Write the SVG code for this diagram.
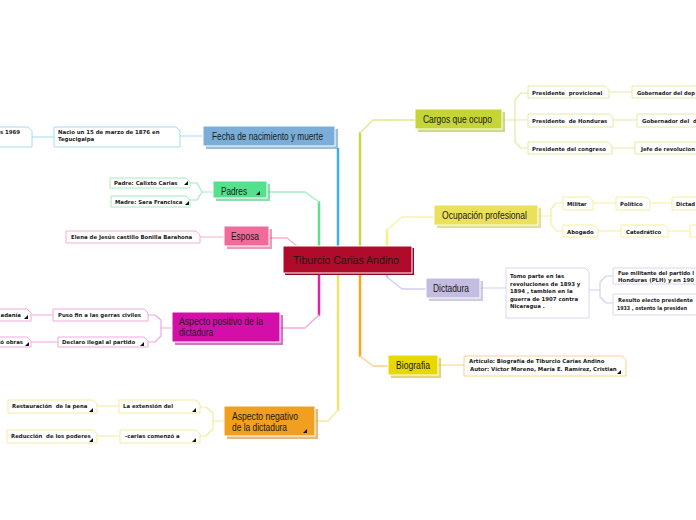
<svg xmlns="http://www.w3.org/2000/svg" width="696" height="520" viewBox="0 0 696 520">
<style>
.mt{font-family:"Liberation Sans",Arial,sans-serif;font-size:11px;fill:#1a1a1a}
.ct{font-family:"DejaVu Sans",Verdana,sans-serif;font-size:5.4px;font-weight:bold;fill:#1a1a1a}
.main{stroke:#fff;stroke-width:1}
.sh{opacity:.55}
.cb{fill:#fff;stroke-width:1}
.ln{fill:none;stroke-linejoin:round;stroke-linecap:round}
.tri{fill:#111}
</style>
<rect width="696" height="520" fill="#fff"/>
<g id="connectors">
<path class="ln" d="M338 246 V149" stroke="#3cb0ea" stroke-width="2.5"/>
<path class="ln" d="M319 246 V202" stroke="#5fe08f" stroke-width="2.5"/>
<path class="ln" d="M319 202 L305 192 H268" stroke="#a6ecc2" stroke-width="1.3"/>
<path class="ln" d="M297 246 L287 238 H270" stroke="#f7b0cc" stroke-width="1.3"/>
<path class="ln" d="M319 273 V315" stroke="#e020b0" stroke-width="2.5"/>
<path class="ln" d="M319 315 L305 328 H281" stroke="#f2a8e2" stroke-width="1.3"/>
<path class="ln" d="M338 273 V410" stroke="#efe070" stroke-width="2.5"/>
<path class="ln" d="M338 410 L328 421 H316" stroke="#f5e9a0" stroke-width="1.3"/>
<path class="ln" d="M360 246 V133" stroke="#c6d648" stroke-width="2.5"/>
<path class="ln" d="M360 133 L373 120 H415" stroke="#dde88c" stroke-width="1.3"/>
<path class="ln" d="M387 246 V230" stroke="#f8f080" stroke-width="2.5"/>
<path class="ln" d="M387 230 L402 217 H434" stroke="#faf3a8" stroke-width="1.3"/>
<path class="ln" d="M387 273 V277" stroke="#c8c4e8" stroke-width="2.5"/>
<path class="ln" d="M387 277 L402 289 H426" stroke="#d2cfee" stroke-width="1.3"/>
<path class="ln" d="M360 273 V356" stroke="#f8a820" stroke-width="2.5"/>
<path class="ln" d="M360 356 L373 366 H388" stroke="#fdd08a" stroke-width="1.3"/>
<g stroke="#e2eca0" stroke-width="1.2" class="ln">
<path d="M502 120 H528"/>
<path d="M515 120 V100 L521 93 H528"/>
<path d="M515 120 V142 L521 148 H528"/>
<path d="M609 92 H632"/>
<path d="M613 120 H637"/>
<path d="M612 148 H635"/>
</g>
<g stroke="#f7ef9a" stroke-width="1.2" class="ln">
<path d="M538 216 H551 V209 L556 203 H563"/>
<path d="M551 216 V224 L556 231 H563"/>
<path d="M593 203 H616"/>
<path d="M650 203 H672"/>
<path d="M598 231 H621"/>
<path d="M668 231 H690"/>
</g>
<g stroke="#d2cfee" stroke-width="1.2" class="ln">
<path d="M480 288 H506"/>
<path d="M589 290 H600 V282 L606 276 H613"/>
<path d="M600 290 V297 L606 303 H613"/>
</g>
<path class="ln" d="M438 365 H464" stroke="#fdd08a" stroke-width="1.2"/>
<g stroke="#a8dcf2" stroke-width="1.2" class="ln">
<path d="M203 136 H180"/>
<path d="M54 137 H32"/>
</g>
<g stroke="#a6ecc2" stroke-width="1.2" class="ln">
<path d="M213 192 H202 L197 183 H190"/>
<path d="M202 192 L197 200 H190"/>
</g>
<path class="ln" d="M224 237 H200" stroke="#f7b0cc" stroke-width="1.2"/>
<g stroke="#f2a8e2" stroke-width="1.2" class="ln">
<path d="M172 328 H161 V320 L155 315 H148"/>
<path d="M161 328 V336 L155 342 H148"/>
<path d="M53 315 H31"/>
<path d="M58 342 H31"/>
</g>
<g stroke="#f5e9a0" stroke-width="1.2" class="ln">
<path d="M224 421 H213 V413 L206 407 H200"/>
<path d="M213 421 V429 L206 436 H200"/>
<path d="M119 406 H97"/>
<path d="M120 436 H97"/>
</g>
</g>

<g id="central">
<rect x="285" y="248" width="129" height="27" fill="#8a0a22"/>
<rect class="main" x="283" y="246" width="129" height="27" fill="#b00b2a"/>
<text class="mt" x="293" y="264" textLength="106" lengthAdjust="spacingAndGlyphs" font-size="12">Tiburcio Carias Andino</text>
</g>

<g id="fecha">
<rect class="sh" x="206" y="129" width="132" height="20" fill="#4f88bd"/>
<rect class="main" x="203" y="126" width="132" height="20" fill="#7aaed8"/>
<text class="mt" x="212" y="140" textLength="111" lengthAdjust="spacingAndGlyphs">Fecha de nacimiento y muerte</text>
</g>
<g id="fecha-c1">
<path class="cb" stroke="#a8dcf2" d="M54 127 H176 L180 131 V147 H54 Z"/>
<text class="ct" x="58" y="134">Nacio un 15 de marzo de 1876 en</text>
<text class="ct" x="58" y="141">Tegucigalpa</text>
</g>
<g id="fecha-c2">
<path class="cb" stroke="#a8dcf2" d="M-5 127 H28 L32 131 V147 H-5 Z"/>
<text class="ct" x="20" y="134" text-anchor="end">s 1969</text>
</g>

<g id="padres">
<rect class="sh" x="216" y="184" width="54" height="17" fill="#2fbf6a"/>
<rect class="main" x="213" y="181" width="54" height="17" fill="#55e08e"/>
<text class="mt" x="221" y="195" textLength="26" lengthAdjust="spacingAndGlyphs">Padres</text>
<path class="tri" d="M260 191 V195 H256 Z"/>
</g>
<g id="padre">
<path class="cb" stroke="#a6ecc2" d="M110 178 H186 L190 182 V188 H110 Z"/>
<text class="ct" x="114" y="185">Padre: Calixto Carias</text>
<path class="tri" d="M188 181 V185 H184 Z"/>
</g>
<g id="madre">
<path class="cb" stroke="#a6ecc2" d="M111 196 H186 L190 200 V207 H111 Z"/>
<text class="ct" x="115" y="204">Madre: Sara Francisca</text>
<path class="tri" d="M189 201 V205 H185 Z"/>
</g>

<g id="esposa">
<rect class="sh" x="227" y="229" width="45" height="20" fill="#d84a80"/>
<rect class="main" x="224" y="226" width="45" height="20" fill="#f06a9a"/>
<text class="mt" x="231" y="240" textLength="28" lengthAdjust="spacingAndGlyphs">Esposa</text>
</g>
<g id="esposa-c">
<path class="cb" stroke="#f7b0cc" d="M66 231 H196 L200 235 V243 H66 Z"/>
<text class="ct" x="71" y="239">Elena de Jesús castillo Bonilla Barahona</text>
</g>

<g id="positivo">
<rect class="sh" x="175" y="315" width="108" height="30" fill="#b0088a"/>
<rect class="main" x="172" y="312" width="108" height="30" fill="#d40fa9"/>
<text class="mt" x="179" y="325" textLength="84" lengthAdjust="spacingAndGlyphs">Aspecto positivo de la</text>
<text class="mt" x="179" y="336" textLength="34" lengthAdjust="spacingAndGlyphs">dictadura</text>
</g>
<g id="puso">
<path class="cb" stroke="#f2a8e2" d="M53 309 H144 L148 313 V321 H53 Z"/>
<text class="ct" x="58" y="317">Puso fin a las gerras civiles</text>
</g>
<g id="declaro">
<path class="cb" stroke="#f2a8e2" d="M58 337 H144 L148 341 V347 H58 Z"/>
<text class="ct" x="62" y="344">Declaro ilegal al partido</text>
<path class="tri" d="M144 342 V346 H140 Z"/>
</g>
<g id="ciudadania">
<path class="cb" stroke="#f2a8e2" d="M-5 309 H27 L31 313 V321 H-5 Z"/>
<text class="ct" x="21" y="317" text-anchor="end">adanía</text>
<path class="tri" d="M28 315 V319 H24 Z"/>
</g>
<g id="obras">
<path class="cb" stroke="#f2a8e2" d="M-5 337 H27 L31 341 V347 H-5 Z"/>
<text class="ct" x="23" y="344" text-anchor="end">ió obras</text>
<path class="tri" d="M29 342 V346 H25 Z"/>
</g>

<g id="negativo">
<rect class="sh" x="227" y="409" width="91" height="30" fill="#d08010"/>
<rect class="main" x="224" y="406" width="91" height="30" fill="#f0a01e"/>
<text class="mt" x="232" y="420" textLength="66" lengthAdjust="spacingAndGlyphs">Aspecto negativo</text>
<text class="mt" x="232" y="431" textLength="55" lengthAdjust="spacingAndGlyphs">de la dictadura</text>
<path class="tri" d="M307 429 V433 H303 Z"/>
</g>
<g id="extension">
<path class="cb" stroke="#f5e9a0" d="M119 400 H196 L200 404 V413 H119 Z"/>
<text class="ct" x="123" y="408">La extensión del</text>
<path class="tri" d="M196 408 V412 H192 Z"/>
</g>
<g id="carias">
<path class="cb" stroke="#f5e9a0" d="M120 430 H196 L200 434 V443 H120 Z"/>
<text class="ct" x="125" y="438">-carias comenzó a</text>
<path class="tri" d="M196 438 V442 H192 Z"/>
</g>
<g id="restauracion">
<path class="cb" stroke="#f5e9a0" d="M8 400 H93 L97 404 V413 H8 Z"/>
<text class="ct" x="12" y="408" xml:space="preserve">Restauración  de la pena</text>
<path class="tri" d="M93 408 V412 H89 Z"/>
</g>
<g id="reduccion">
<path class="cb" stroke="#f5e9a0" d="M7 430 H93 L97 434 V443 H7 Z"/>
<text class="ct" x="11" y="438" xml:space="preserve">Reducción  de los poderes</text>
<path class="tri" d="M93 438 V442 H89 Z"/>
</g>

<g id="cargos">
<rect class="sh" x="418" y="112" width="87" height="20" fill="#a8b828"/>
<rect class="main" x="415" y="109" width="87" height="20" fill="#c5d535"/>
<text class="mt" x="423" y="123" textLength="69" lengthAdjust="spacingAndGlyphs">Cargos que ocupo</text>
</g>
<g id="pres-prov">
<path class="cb" stroke="#e2eca0" d="M528 86 H605 L609 90 V98 H528 Z"/>
<text class="ct" x="532" y="95" xml:space="preserve">Presidente  provicional</text>
</g>
<g id="pres-hond">
<path class="cb" stroke="#e2eca0" d="M528 114 H609 L613 118 V127 H528 Z"/>
<text class="ct" x="532" y="123" xml:space="preserve">Presidente  de Honduras</text>
</g>
<g id="pres-cong">
<path class="cb" stroke="#e2eca0" d="M528 142 H608 L612 146 V154 H528 Z"/>
<text class="ct" x="532" y="151">Presidente del congreso</text>
</g>
<g id="gob1">
<path class="cb" stroke="#e2eca0" d="M632 86 H700 V98 H632 Z"/>
<text class="ct" x="637" y="95" textLength="58" lengthAdjust="spacingAndGlyphs">Gobernador del dep</text>
</g>
<g id="gob2">
<path class="cb" stroke="#e2eca0" d="M637 114 H700 V127 H637 Z"/>
<text class="ct" x="642" y="123" xml:space="preserve">Gobernador del  d</text>
</g>
<g id="jefe">
<path class="cb" stroke="#e2eca0" d="M635 142 H700 V154 H635 Z"/>
<text class="ct" x="641" y="151" textLength="54" lengthAdjust="spacingAndGlyphs">Jefe de revolucion</text>
</g>

<g id="ocupacion">
<rect class="sh" x="437" y="208" width="104" height="20" fill="#d0c440"/>
<rect class="main" x="434" y="205" width="104" height="20" fill="#ebe05a"/>
<text class="mt" x="442" y="219" textLength="85" lengthAdjust="spacingAndGlyphs">Ocupación profesional</text>
</g>
<g id="militar">
<path class="cb" stroke="#f7ef9a" d="M563 197 H589 L593 201 V210 H563 Z"/>
<text class="ct" x="567" y="206">Militar</text>
</g>
<g id="politico">
<path class="cb" stroke="#f7ef9a" d="M616 197 H646 L650 201 V210 H616 Z"/>
<text class="ct" x="620" y="206">Político</text>
</g>
<g id="dictador">
<path class="cb" stroke="#f7ef9a" d="M672 197 H700 V210 H672 Z"/>
<text class="ct" x="676" y="206" textLength="19" lengthAdjust="spacingAndGlyphs">Dictad</text>
</g>
<g id="abogado">
<path class="cb" stroke="#f7ef9a" d="M563 225 H594 L598 229 V237 H563 Z"/>
<text class="ct" x="567" y="234">Abogado</text>
</g>
<g id="catedratico">
<path class="cb" stroke="#f7ef9a" d="M621 225 H664 L668 229 V237 H621 Z"/>
<text class="ct" x="626" y="234">Catedrático</text>
</g>
<g id="ocup-next">
<path class="cb" stroke="#f7ef9a" d="M690 225 H700 V237 H690 Z"/>
</g>

<g id="dictadura">
<rect class="sh" x="429" y="281" width="54" height="20" fill="#a8a0cc"/>
<rect class="main" x="426" y="278" width="54" height="20" fill="#c5bde0"/>
<text class="mt" x="433" y="292" textLength="36" lengthAdjust="spacingAndGlyphs">Dictadura</text>
</g>
<g id="tomo">
<path class="cb" stroke="#d8d6ee" d="M506 268 H585 L589 272 V318 H506 Z"/>
<text class="ct" x="510" y="278">Tomo parte en las</text>
<text class="ct" x="510" y="286">revoluciones de 1893 y</text>
<text class="ct" x="510" y="293">1894 , tambien en la</text>
<text class="ct" x="510" y="301">guerra de 1907 contra</text>
<text class="ct" x="510" y="308">Nicaragua .</text>
</g>
<g id="fue">
<path class="cb" stroke="#d8d6ee" d="M613 268 H700 V284 H613 Z"/>
<text class="ct" x="618" y="275" textLength="76" lengthAdjust="spacingAndGlyphs">Fue militante del partido l</text>
<text class="ct" x="618" y="282" textLength="76" lengthAdjust="spacingAndGlyphs">Honduras (PLH) y en 190</text>
</g>
<g id="resulto">
<path class="cb" stroke="#d8d6ee" d="M613 294 H700 V315 H613 Z"/>
<text class="ct" x="618" y="302" textLength="75" lengthAdjust="spacingAndGlyphs">Resulto electo presidente</text>
<text class="ct" x="617" y="310" font-size="4.6" textLength="70" lengthAdjust="spacingAndGlyphs">1933 , ostento la presiden</text>
</g>

<g id="biografia">
<rect class="sh" x="391" y="358" width="50" height="20" fill="#c8b800"/>
<rect class="main" x="388" y="355" width="50" height="20" fill="#e6d800"/>
<text class="mt" x="396" y="369" textLength="34" lengthAdjust="spacingAndGlyphs">Biografia</text>
</g>
<g id="articulo">
<path class="cb" stroke="#fdd08a" d="M464 356 H622 L626 360 V376 H464 Z"/>
<text class="ct" x="469" y="363">Artículo: Biografía de Tiburcio Carías Andino</text>
<text class="ct" x="470" y="371">Autor: Víctor Moreno, María E. Ramírez, Cristian</text>
<path class="tri" d="M621 370 V374 H617 Z"/>
</g>
</svg>
